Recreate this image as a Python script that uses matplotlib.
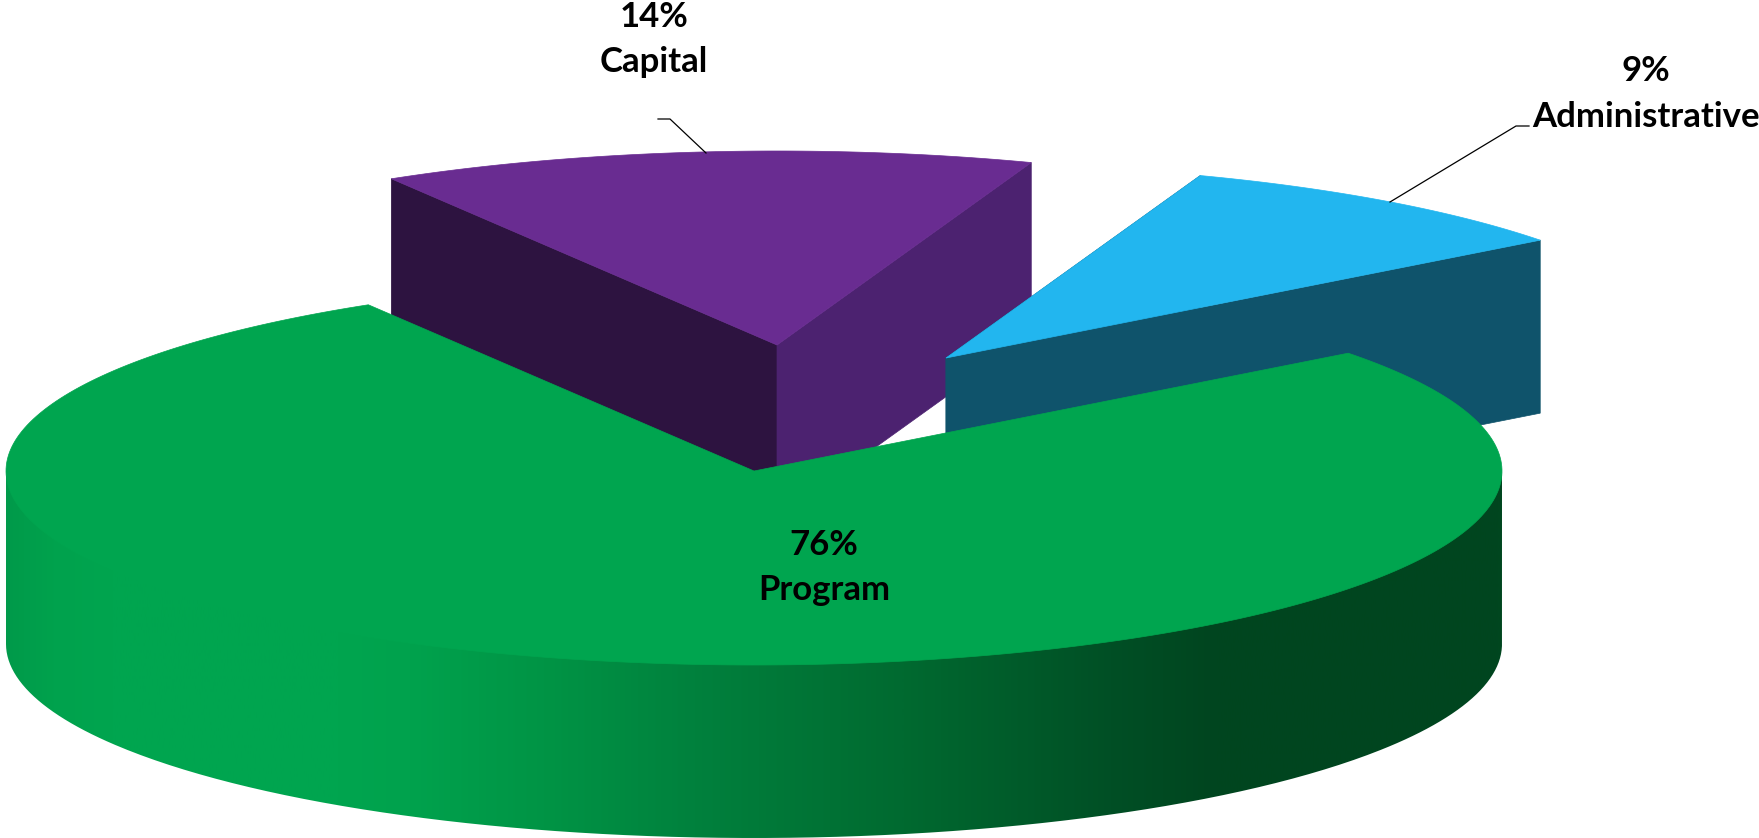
import numpy as np
import matplotlib
matplotlib.use("Agg")
import matplotlib.pyplot as plt
from matplotlib.colors import LinearSegmentedColormap
from matplotlib.patches import Polygon
from matplotlib.path import Path

# Data
labels = ["Program", "Capital", "Administrative"]
shares = [76, 14, 9]
top_colors = ["#00a54f", "#692c91", "#22b6ef"]
cut_colors = ["#00a54f", "#2d1340", "#0f536b"]
rim_colors = ["#00a54f", "#4c2270", "#0f536b"]

# Pie geometry, in pixels of the 1759x838 picture
W, H = 1759, 838
CX, CY = 754, 471
RX, RY = 748, 194
DEPTH = 173
START = 37.4
offsets = [(0, 0), (23, -126), (192, -113)]

# Shading along the program rim: position across the pie, colour
rim_stops = [(0.0, "#009a4a"), (0.03, "#00a24d"), (0.07, "#00a54f"), (0.22, "#00a54f"),
             (0.27, "#00a24d"), (0.36, "#009445"), (0.46, "#00813d"), (0.60, "#006a30"),
             (0.74, "#004f25"), (0.81, "#00451f"), (1.0, "#00461f")]


def point(t, dx, dy, drop=0):
    a = np.radians(t)
    return CX + dx + RX * np.cos(a), CY + dy - RY * np.sin(a) + drop


def arc(t0, t1, dx, dy, drop=0):
    ts = np.linspace(t0, t1, 300)
    return np.column_stack(point(ts, dx, dy, drop))


fig = plt.figure(figsize=(W / 100, H / 100), dpi=100)
ax = fig.add_axes([0, 0, 1, 1])
ax.set_xlim(0, W)
ax.set_ylim(H, 0)
ax.axis("off")

# Wedge angles come from the shares
sweeps = np.array(shares) / sum(shares) * 360
t_prog = (START + sweeps[1] + sweeps[2], START + 360)
t_cap = (START + sweeps[2], START + sweeps[2] + sweeps[1])
t_adm = (START, START + sweeps[2])


def draw_exploded(t_range, off, top, cut, rim, z):
    t0, t1 = t_range
    dx, dy = off
    apex = (CX + dx, CY + dy)
    low = (apex[0], apex[1] + DEPTH)
    left = point(t1, dx, dy)
    right = point(t0, dx, dy)
    ax.add_patch(Polygon([left, apex, low, point(t1, dx, dy, DEPTH)], fc=cut, ec=cut, lw=0.5, zorder=z))
    ax.add_patch(Polygon([right, apex, low, point(t0, dx, dy, DEPTH)], fc=rim, ec=rim, lw=0.5, zorder=z))
    ax.add_patch(Polygon(np.vstack([[apex], arc(t0, t1, dx, dy)]), fc=top, ec=top, lw=0.5, zorder=z + 0.5))


draw_exploded(t_cap, offsets[1], top_colors[1], cut_colors[1], rim_colors[1], 1)
draw_exploded(t_adm, offsets[2], top_colors[2], cut_colors[2], rim_colors[2], 2)

# Program rim, a gradient clipped to the front wall
# it starts a little above the seam so no white shows through the antialiasing
wall = np.vstack([arc(180, 360, 0, -4), arc(360, 180, 0, 0, DEPTH)])
cmap = LinearSegmentedColormap.from_list("rim", rim_stops)
im = ax.imshow(np.linspace(0, 1, 512).reshape(1, -1), cmap=cmap, aspect="auto",
               extent=[CX - RX, CX + RX, H, 0], zorder=3)
im.set_clip_path(Path(wall), transform=ax.transData)
ax.set_xlim(0, W)
ax.set_ylim(H, 0)

# Program top
ax.add_patch(Polygon(np.vstack([[(CX, CY)], arc(t_prog[0], t_prog[1], 0, 0)]),
                     fc=top_colors[0], ec=top_colors[0], lw=0.5, zorder=4))

# Leader lines
capital_leader = ([706, 670, 658], [153, 119, 119])
admin_leader = ([1390, 1516, 1529], [202, 126, 126])
ax.plot(*capital_leader, color="black", lw=0.9, zorder=5)
ax.plot(*admin_leader, color="black", lw=0.9, zorder=5)

# Labels
label_spots = [(824, 555, 600), (654, 27, 72), (1646, 81, 127)]
for name, share, (x, y1, y2) in zip(labels, shares, label_spots):
    ax.text(x, y1, f"{share}%", ha="center", va="baseline", family="Lato",
            weight="bold", fontsize=25, color="black", zorder=6)
    ax.text(x, y2, name, ha="center", va="baseline", family="Lato",
            weight="bold", fontsize=25, color="black", zorder=6)

fig.savefig("out.png", dpi=100, facecolor="white")
